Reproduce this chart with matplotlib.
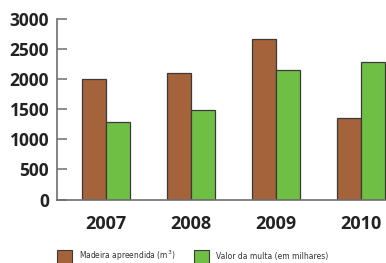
import numpy as np
import matplotlib
matplotlib.use("Agg")
import matplotlib.pyplot as plt
from matplotlib.patches import Rectangle
from matplotlib import font_manager

years = ["2007", "2008", "2009", "2010"]
madeira = [2000, 2100, 2660, 1360]      # Madeira apreendida (m³)
multa = [1280, 1480, 2160, 2280]        # Valor da multa (em milhares)
yticks = [0, 500, 1000, 1500, 2000, 2500, 3000]

BROWN, GREEN, EDGE = "#A5633B", "#6FBF45", "#3a3a3a"
AXC = "#6e6e6e"

fig = plt.figure(figsize=(3.86, 2.63), dpi=100)
ax = fig.add_axes([0.147, 0.2414, 0.853, 0.6863])

x = np.arange(len(years))
w = 0.281
ax.bar(x - w / 2, madeira, w, color=BROWN, edgecolor=EDGE, linewidth=0.9)
ax.bar(x + w / 2, multa, w, color=GREEN, edgecolor=EDGE, linewidth=0.9)

ax.set_xlim(-0.574, 3.29)
ax.set_ylim(0, 3000)
ax.set_yticks(yticks)
ax.set_yticklabels([str(v) for v in yticks], family="Open Sans", fontweight="bold",
                   fontsize=12.5, color="#222222")
ax.set_xticks(x)
ax.set_xticklabels(years, family="Open Sans", fontweight="bold", fontsize=13, color="#222222")
ax.tick_params(axis="y", direction="in", length=7, width=1.1, color=AXC, pad=5.5)
ax.tick_params(axis="x", length=0, pad=11)
for sp in ["top", "right"]:
    ax.spines[sp].set_visible(False)
for sp in ["left", "bottom"]:
    ax.spines[sp].set_color(AXC)
    ax.spines[sp].set_linewidth(1.2)

# pick a narrow font if one is around
names = {f.name for f in font_manager.fontManager.ttflist}
narrow = "Liberation Sans Narrow" if "Liberation Sans Narrow" in names else "DejaVu Sans"

# legend, drawn below the axes
W, H = 386, 263
fig.canvas.draw()
rend = fig.canvas.get_renderer()
for x0, col, lab, target in [(56.7, BROWN, "Madeira apreendida (m$^3$)", 96),
                             (194, GREEN, "Valor da multa (em milhares)", 112)]:
    fig.patches.append(Rectangle((x0 / W, 1 - 264 / H), 15 / W, 14 / H, transform=fig.transFigure,
                                 facecolor=col, edgecolor=EDGE, linewidth=0.8))
    t = fig.text((x0 + 22.5) / W, 1 - 256 / H, lab, family=narrow, fontstretch="condensed",
                 fontsize=7.3, color="#333333", va="center", ha="left")
    wpx = t.get_window_extent(rend).width
    if wpx > target * 1.05:
        t.set_fontsize(7.3 * target / wpx)

fig.savefig("out.png", dpi=100)
